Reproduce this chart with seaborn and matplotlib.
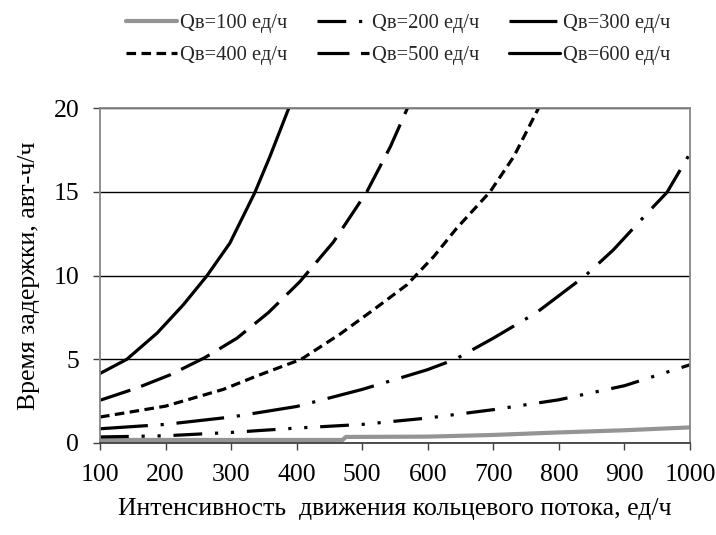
import matplotlib
matplotlib.use("Agg")
import matplotlib.pyplot as plt
from matplotlib.lines import Line2D
import pandas as pd
import seaborn as sns

sns.set_theme(style="white")
plt.rcParams["font.family"] = ["Liberation Serif", "DejaVu Serif"]

# Qв = 100 ед/ч
x_100 = [100, 470, 475, 600, 700, 800, 900, 1000]
y_100 = [0.18, 0.18, 0.36, 0.38, 0.48, 0.63, 0.76, 0.93]
# Qв = 200 ед/ч
x_200 = [100, 200, 300, 400, 500, 600, 700, 800, 900, 1000]
y_200 = [0.36, 0.43, 0.63, 0.89, 1.11, 1.49, 1.99, 2.58, 3.42, 4.67]
# Qв = 300 ед/ч
x_300 = [100, 200, 300, 400, 500, 599, 642, 700, 766, 840, 883, 939, 965, 1000]
y_300 = [0.85, 1.11, 1.55, 2.18, 3.2, 4.37, 5.0, 6.26, 7.79, 9.98, 11.53, 13.9, 14.97, 17.3]
# Qв = 400 ед/ч
x_400 = [100, 200, 288, 339, 407, 466, 517, 568, 609, 644, 695, 731, 769]
y_400 = [1.55, 2.2, 3.2, 4.0, 5.0, 6.5, 7.95, 9.44, 11.13, 12.82, 15.0, 17.09, 20.0]
# Qв = 500 ед/ч
x_500 = [100, 156, 207, 260, 309, 357, 405, 456, 507, 543, 569]
y_500 = [2.55, 3.28, 4.07, 5.1, 6.26, 7.79, 9.64, 12.0, 15.0, 17.7, 20.0]
# Qв = 600 ед/ч
x_600 = [100, 141, 187, 227, 263, 298, 336, 359, 388]
y_600 = [4.15, 5.0, 6.56, 8.25, 9.98, 11.93, 14.94, 17.09, 20.0]

labels = ["Qв=100 ед/ч", "Qв=200 ед/ч", "Qв=300 ед/ч",
          "Qв=400 ед/ч", "Qв=500 ед/ч", "Qв=600 ед/ч"]
xs = [x_100, x_200, x_300, x_400, x_500, x_600]
ys = [y_100, y_200, y_300, y_400, y_500, y_600]

frames = []
for lab, xv, yv in zip(labels, xs, ys):
    frames.append(pd.DataFrame({"x": xv, "y": yv, "series": lab}))
df = pd.concat(frames, ignore_index=True)

palette = {labels[0]: "#949494"}
for lab in labels[1:]:
    palette[lab] = "black"
dashes = {
    labels[0]: "",
    labels[1]: (9, 4, 1, 4, 1, 4),
    labels[2]: (15, 4, 1, 4),
    labels[3]: (3, 1.7),
    labels[4]: (10, 3.6),
    labels[5]: "",
}
LW = 2.3

fig = plt.figure(figsize=(7.16, 5.35), dpi=100)
ax = fig.add_axes([0.1397, 0.172, 0.824, 0.626])

sns.lineplot(data=df, x="x", y="y", hue="series", style="series",
             hue_order=labels, style_order=labels, palette=palette,
             dashes=dashes, linewidth=LW, sort=False, estimator=None,
             legend=False, ax=ax)
for line in ax.get_lines():
    line.set_dash_capstyle("butt")
    if line.get_color() != "black":
        line.set_linewidth(3.0)

ax.set_xlim(100, 1000)
ax.set_ylim(0, 20)
ax.set_xticks(range(100, 1001, 100))
ax.set_yticks(range(0, 21, 5))
ax.yaxis.grid(True, color="black", linewidth=1.0)
ax.set_axisbelow(True)
for side in ["left", "top", "right"]:
    ax.spines[side].set_color("#868686")
    ax.spines[side].set_linewidth(1.3)
ax.spines["bottom"].set_color("#404040")
ax.spines["bottom"].set_linewidth(1.3)
ax.tick_params(axis="both", which="both", direction="out", length=5,
               width=1, color="#404040", labelsize=18.5, labelcolor="black",
               bottom=True, left=True, pad=10)

ax.set_xlabel("Интенсивность  движения кольцевого потока, ед/ч",
              fontsize=18.5, labelpad=9, color="black")
ax.set_ylabel("Время задержки, авт-ч/ч", fontsize=18.5, labelpad=10,
              color="black")

# legend reads row by row, matplotlib fills columns first
order = [0, 3, 1, 4, 2, 5]
handles = []
for i in order:
    lab = labels[i]
    h = Line2D([], [], color=palette[lab],
               linewidth=3.0 if i == 0 else LW, dash_capstyle="butt")
    if dashes[lab]:
        h.set_dashes(dashes[lab])
    handles.append(h)
fig.legend(handles, [labels[i] for i in order], loc="center",
           bbox_to_anchor=(398 / 716, 0.926), ncol=3, frameon=False,
           fontsize=14.8, handlelength=2.5, handletextpad=0.15,
           columnspacing=1.45, labelspacing=0.6)

fig.savefig("out.png", dpi=100)
